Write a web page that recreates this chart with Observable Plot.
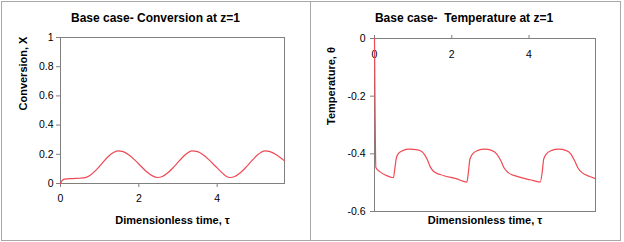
<!DOCTYPE html>
<html>
<head>
<meta charset="utf-8">
<script src="https://cdn.jsdelivr.net/npm/d3@7"></script>
<script src="https://cdn.jsdelivr.net/npm/@observablehq/plot@0.6"></script>
<style>
  html, body { margin: 0; padding: 0; background: #fff; }
  #wrap { position: relative; width: 624px; height: 242px; overflow: hidden; font-family: "Liberation Sans", Arial, sans-serif; }
  .border { position: absolute; box-sizing: border-box; border: 1px solid #a8a8a8; }
  .chart { position: absolute; top: 0; }
  .chart svg { display: block; overflow: visible; }
</style>
</head>
<body>
<div id="wrap">
  <div class="border" style="left:1px;top:1px;width:310px;height:240px;"></div>
  <div class="border" style="left:310px;top:1px;width:311px;height:240px;"></div>
  <div class="chart" id="left" style="left:0px;"></div>
  <div class="chart" id="right" style="left:312px;"></div>
</div>
<script>
// ---- Data ----
const tConv = [0, 0.04, 0.1, 0.3, 0.5, 0.63, 0.75, 0.9, 1.05, 1.2, 1.35, 1.46, 1.6, 1.75, 1.9, 2.05, 2.2, 2.35, 2.48, 2.6, 2.75, 2.9, 3.05, 3.2, 3.35, 3.5, 3.65, 3.8, 3.95, 4.1, 4.22, 4.33, 4.45, 4.6, 4.75, 4.9, 5.05, 5.22, 5.35, 5.5, 5.72];
const conv  = [0, 0.02, 0.03, 0.034, 0.036, 0.04, 0.055, 0.09, 0.135, 0.18, 0.213, 0.224, 0.218, 0.195, 0.16, 0.12, 0.08, 0.052, 0.041, 0.048, 0.075, 0.115, 0.16, 0.2, 0.224, 0.218, 0.195, 0.16, 0.12, 0.08, 0.052, 0.041, 0.048, 0.075, 0.115, 0.16, 0.2, 0.224, 0.218, 0.198, 0.155];

const tTemp = [0, 0.015, 0.035, 0.12, 0.29, 0.49, 0.52, 0.56, 0.61, 0.73, 0.9, 1.12, 1.25, 1.36, 1.45, 1.56, 1.78, 2.13, 2.39, 2.43, 2.47, 2.54, 2.66, 2.86, 3.03, 3.16, 3.27, 3.36, 3.47, 3.69, 4.03, 4.29, 4.34, 4.38, 4.45, 4.57, 4.77, 4.95, 5.08, 5.18, 5.27, 5.38, 5.56, 5.72];
const temp  = [0, -0.25, -0.447, -0.46, -0.474, -0.483, -0.458, -0.418, -0.4, -0.389, -0.384, -0.386, -0.395, -0.418, -0.447, -0.464, -0.475, -0.487, -0.498, -0.464, -0.418, -0.4, -0.389, -0.384, -0.388, -0.4, -0.424, -0.45, -0.466, -0.478, -0.49, -0.498, -0.464, -0.418, -0.4, -0.389, -0.384, -0.388, -0.4, -0.424, -0.45, -0.466, -0.478, -0.486];

const xTicks = [0, 2, 4];
const yTicksConv = [0, 0.2, 0.4, 0.6, 0.8, 1];
const yTicksTemp = [0, -0.2, -0.4, -0.6];
const xDomain = [0, 5.72];

const titleConv = "Base case- Conversion at z=1";
const titleTemp = "Base case-  Temperature at z=1";
const yLabelConv = "Conversion, X";
const yLabelTemp = "Temperature, \u03B8";
const xLabel = "Dimensionless time, \u03C4";

const axisColor = "#808080";
const lineColor = "#ee4a55";
const tickFont = 10.5;
const fmt = d => String(d);

const convData = tConv.map((t, i) => ({t, v: conv[i]}));
const tempData = tTemp.map((t, i) => ({t, v: temp[i]}));

// ---- Left chart ----
const left = Plot.plot({
  width: 311, height: 242,
  marginLeft: 60, marginRight: 27, marginTop: 37, marginBottom: 59,
  style: {fontFamily: "'Liberation Sans', Arial, sans-serif", fontSize: "11px", color: "#000", background: "transparent", overflow: "visible"},
  x: {domain: xDomain},
  y: {domain: [0, 1]},
  marks: [
    Plot.frame({stroke: axisColor}),
    Plot.axisY({ticks: yTicksConv, tickFormat: fmt, tickSize: 4, tickPadding: 3, stroke: axisColor, fill: "#000", label: null, fontSize: tickFont}),
    Plot.axisX({ticks: xTicks, tickFormat: fmt, tickSize: 4, tickPadding: 7, stroke: axisColor, fill: "#000", label: null, fontSize: tickFont}),
    Plot.line(convData, {x: "t", y: "v", stroke: lineColor, strokeWidth: 1.2, curve: "monotone-x"}),
    Plot.text([titleConv], {frameAnchor: "top", text: d => d, lineAnchor: "bottom", dy: -16, dx: -17, fontWeight: "bold", fontSize: 12, fill: "#000"}),
    Plot.text([yLabelConv], {frameAnchor: "left", text: d => d, rotate: -90, dx: -37, fontWeight: "bold", fontSize: 11, fill: "#000"}),
    Plot.text([xLabel], {frameAnchor: "bottom", text: d => d, lineAnchor: "bottom", dy: 40.5, fontWeight: "bold", fontSize: 11, fill: "#000"})
  ]
});
document.getElementById("left").appendChild(left);

// ---- Right chart ----
const right = Plot.plot({
  width: 312, height: 242,
  marginLeft: 62, marginRight: 29, marginTop: 38, marginBottom: 31,
  style: {fontFamily: "'Liberation Sans', Arial, sans-serif", fontSize: "11px", color: "#000", background: "transparent", overflow: "visible"},
  x: {domain: xDomain},
  y: {domain: [-0.6, 0]},
  marks: [
    Plot.frame({stroke: axisColor}),
    Plot.axisY({ticks: yTicksTemp, tickFormat: fmt, tickSize: 4, tickPadding: 5, stroke: axisColor, fill: "#000", label: null, fontSize: tickFont}),
    Plot.axisX({anchor: "top", ticks: xTicks, tickFormat: () => "", tickSize: 4, stroke: axisColor, label: null}),
    Plot.text(xTicks, {x: d => d, frameAnchor: "top", text: fmt, lineAnchor: "top", dy: 12, fontSize: tickFont, fill: "#000"}),
    Plot.line(tempData, {x: "t", y: "v", stroke: lineColor, strokeWidth: 1.2, curve: "monotone-x"}),
    Plot.text([titleTemp], {frameAnchor: "top", text: d => d, lineAnchor: "bottom", dy: -17, dx: -21, fontWeight: "bold", fontSize: 12, fill: "#000"}),
    Plot.text([yLabelTemp], {frameAnchor: "left", text: d => d, rotate: -90, dx: -43, fontWeight: "bold", fontSize: 11, fill: "#000"}),
    Plot.text([xLabel], {frameAnchor: "bottom", text: d => d, lineAnchor: "bottom", dy: 12.5, fontWeight: "bold", fontSize: 11, fill: "#000"})
  ]
});
document.getElementById("right").appendChild(right);
</script>
</body>
</html>
